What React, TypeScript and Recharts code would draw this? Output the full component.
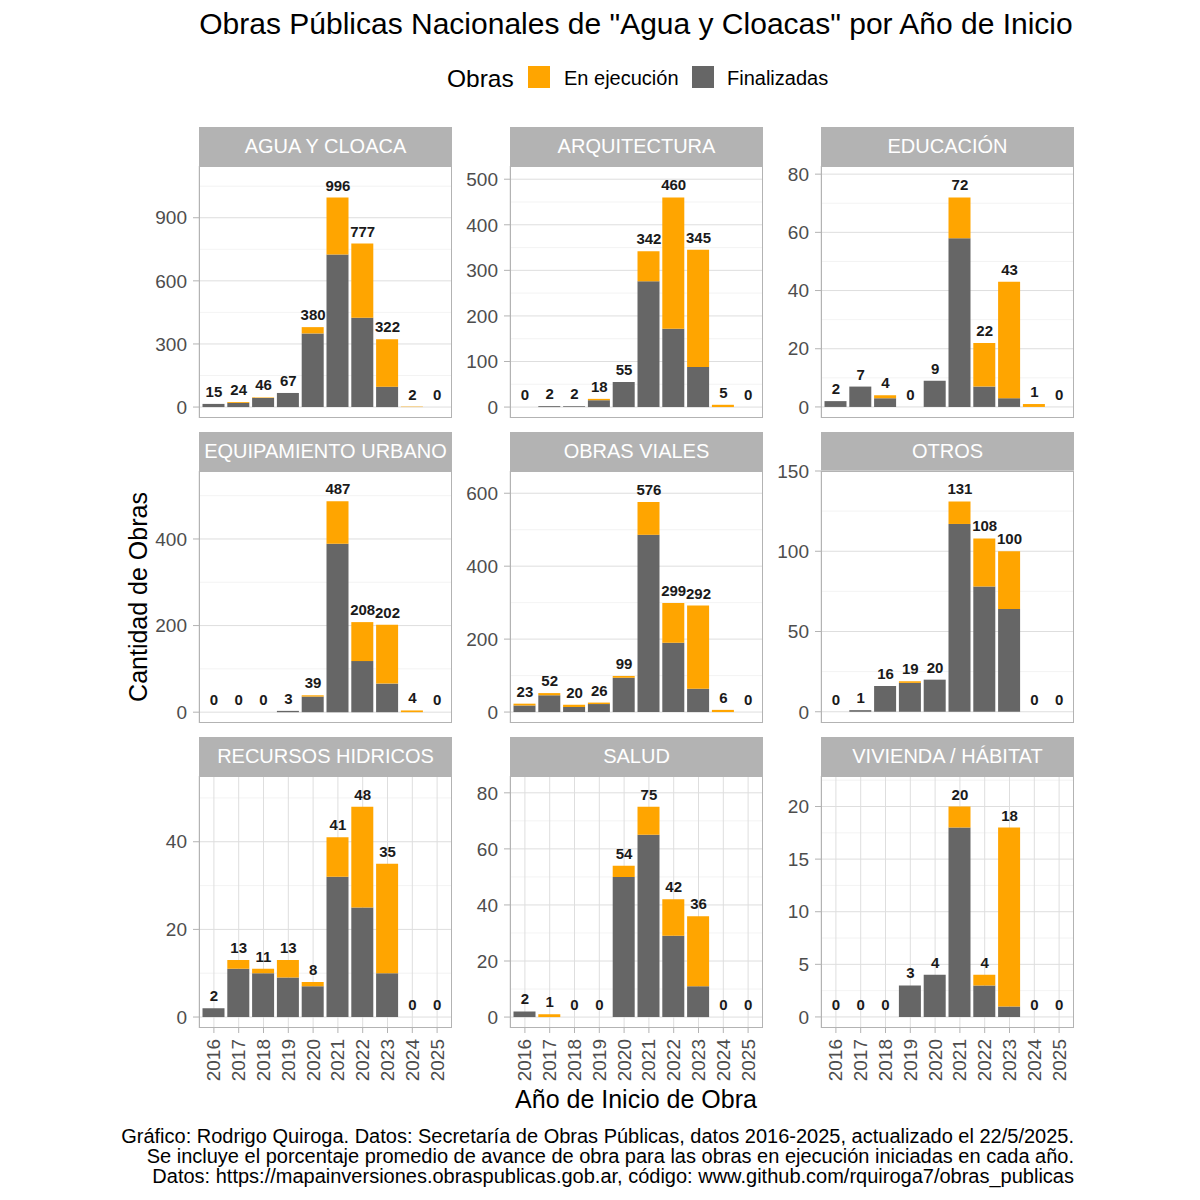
import { ComposedChart, Bar, Line, XAxis, YAxis, CartesianGrid, LabelList } from "recharts";

const FONT = '"Liberation Sans", Arial, Helvetica, sans-serif';

const YEARS = ["2016", "2017", "2018", "2019", "2020", "2021", "2022", "2023", "2024", "2025"];

// finalizadas / en ejecución por categoría
const AGUA_FIN = [15, 20, 43, 67, 350, 725, 425, 97, 0, 0];
const AGUA_EJEC = [0, 4, 3, 0, 30, 271, 352, 225, 2, 0];
const ARQ_FIN = [0, 2, 2, 15, 55, 276, 172, 88, 0, 0];
const ARQ_EJEC = [0, 0, 0, 3, 0, 66, 288, 257, 5, 0];
const EDU_FIN = [2, 7, 3, 0, 9, 58, 7, 3, 0, 0];
const EDU_EJEC = [0, 0, 1, 0, 0, 14, 15, 40, 1, 0];
const EQUIP_FIN = [0, 0, 0, 3, 36, 389, 118, 66, 0, 0];
const EQUIP_EJEC = [0, 0, 0, 0, 3, 98, 90, 136, 4, 0];
const VIALES_FIN = [18, 46, 14, 22, 94, 486, 190, 64, 0, 0];
const VIALES_EJEC = [5, 6, 6, 4, 5, 90, 109, 228, 6, 0];
const OTROS_FIN = [0, 1, 16, 18, 20, 117, 78, 64, 0, 0];
const OTROS_EJEC = [0, 0, 0, 1, 0, 14, 30, 36, 0, 0];
const HIDRICOS_FIN = [2, 11, 10, 9, 7, 32, 25, 10, 0, 0];
const HIDRICOS_EJEC = [0, 2, 1, 4, 1, 9, 23, 25, 0, 0];
const SALUD_FIN = [2, 0, 0, 0, 50, 65, 29, 11, 0, 0];
const SALUD_EJEC = [0, 1, 0, 0, 4, 10, 13, 25, 0, 0];
const VIVIENDA_FIN = [0, 0, 0, 3, 4, 18, 3, 1, 0, 0];
const VIVIENDA_EJEC = [0, 0, 0, 0, 0, 2, 1, 17, 0, 0];

const PANELS = [
  { name: "AGUA Y CLOACA", fin: AGUA_FIN, ejec: AGUA_EJEC, domain: [-52, 1146], ticks: [0, 300, 600, 900], minor: [150, 450, 750, 1050] },
  { name: "ARQUITECTURA", fin: ARQ_FIN, ejec: ARQ_EJEC, domain: [-24, 529], ticks: [0, 100, 200, 300, 400, 500], minor: [50, 150, 250, 350, 450] },
  { name: "EDUCACIÓN", fin: EDU_FIN, ejec: EDU_EJEC, domain: [-3.8, 82.8], ticks: [0, 20, 40, 60, 80], minor: [10, 30, 50, 70] },
  { name: "EQUIPAMIENTO URBANO", fin: EQUIP_FIN, ejec: EQUIP_EJEC, domain: [-25, 557], ticks: [0, 200, 400], minor: [100, 300, 500] },
  { name: "OBRAS VIALES", fin: VIALES_FIN, ejec: VIALES_EJEC, domain: [-30, 661], ticks: [0, 200, 400, 600], minor: [100, 300, 500] },
  { name: "OTROS", fin: OTROS_FIN, ejec: OTROS_EJEC, domain: [-7, 150], ticks: [0, 50, 100, 150], minor: [25, 75, 125] },
  { name: "RECURSOS HIDRICOS", fin: HIDRICOS_FIN, ejec: HIDRICOS_EJEC, domain: [-2.5, 55], ticks: [0, 20, 40], minor: [10, 30, 50] },
  { name: "SALUD", fin: SALUD_FIN, ejec: SALUD_EJEC, domain: [-3.9, 86], ticks: [0, 20, 40, 60, 80], minor: [10, 30, 50, 70] },
  { name: "VIVIENDA / HÁBITAT", fin: VIVIENDA_FIN, ejec: VIVIENDA_EJEC, domain: [-1.05, 22.9], ticks: [0, 5, 10, 15, 20], minor: [2.5, 7.5, 12.5, 17.5, 22.5] },
];

const COL_X = [199, 510, 821];
const ROW_Y = [166, 471, 776];
const PLOT_W = 253;
const PLOT_H = 252;
const STRIP_H = 39;
const AXIS_W = 70;
const X_AXIS_H = 65;
const TOP_PAD = 14;

const ORANGE = "#FFA500";
const GRAY = "#666666";

function YearTick(props: any) {
  const { x, y, payload } = props;
  return (
    <text
      transform={`translate(${x},${y}) rotate(-90)`}
      textAnchor="end"
      dominantBaseline="central"
      fill="#4D4D4D"
      fontSize={19}
      fontFamily={FONT}
    >
      {payload.value}
    </text>
  );
}

function Panel({ panel, index }: { panel: any; index: number }) {
  const col = index % 3;
  const row = Math.floor(index / 3);
  const left = COL_X[col];
  const top = ROW_Y[row];
  const bottom = row === 2;
  const data = YEARS.map((year, i) => ({
    year,
    fin: panel.fin[i],
    ejec: panel.ejec[i],
    total: panel.fin[i] + panel.ejec[i],
  }));

  return (
    <>
      <div
        style={{
          position: "absolute",
          left,
          top: top - STRIP_H,
          width: PLOT_W,
          height: STRIP_H,
          background: "#B3B3B3",
          color: "#fff",
          fontSize: 20,
          display: "flex",
          alignItems: "center",
          justifyContent: "center",
          whiteSpace: "nowrap",
        }}
      >
        {panel.name}
      </div>
      <div style={{ position: "absolute", left: left - AXIS_W, top: top - TOP_PAD }}>
        <ComposedChart
          width={AXIS_W + PLOT_W}
          height={TOP_PAD + PLOT_H + (bottom ? X_AXIS_H : 0)}
          data={data}
          margin={{ top: TOP_PAD, right: 0, bottom: 0, left: 0 }}
          barSize={22}
        >
          <CartesianGrid horizontalValues={panel.minor} vertical={false} stroke="#EBEBEB" strokeWidth={0.6} />
          <CartesianGrid horizontalValues={panel.ticks} stroke="#DEDEDE" strokeWidth={1} />
          <XAxis
            dataKey="year"
            padding={{ left: 2.5, right: 2.5 }}
            height={bottom ? X_AXIS_H : 0}
            tick={bottom ? <YearTick /> : false}
            tickLine={bottom ? { stroke: "#B3B3B3" } : false}
            axisLine={false}
            tickSize={5}
            tickMargin={6}
            interval={0}
          />
          <YAxis
            type="number"
            domain={panel.domain}
            allowDataOverflow
            ticks={panel.ticks}
            width={AXIS_W}
            tick={{ fill: "#4D4D4D", fontSize: 19, fontFamily: FONT }}
            tickLine={{ stroke: "#B3B3B3" }}
            axisLine={false}
            tickSize={6}
            tickMargin={6}
            interval={0}
          />
          <Bar dataKey="fin" stackId="a" fill={GRAY} isAnimationActive={false} />
          <Bar dataKey="ejec" stackId="a" fill={ORANGE} isAnimationActive={false} />
          <Line
            dataKey="total"
            stroke="none"
            dot={false}
            activeDot={false}
            legendType="none"
            isAnimationActive={false}
          >
            <LabelList
              dataKey="total"
              position="top"
              offset={7}
              fill="#1A1A1A"
              fontSize={15}
              fontWeight="bold"
              fontFamily={FONT}
            />
          </Line>
        </ComposedChart>
      </div>
      <div
        style={{
          position: "absolute",
          left,
          top,
          width: PLOT_W,
          height: PLOT_H,
          border: "1px solid #B3B3B3",
          boxSizing: "border-box",
          pointerEvents: "none",
        }}
      />
    </>
  );
}

export default function App() {
  return (
    <div
      style={{
        position: "absolute",
        left: 0,
        top: 0,
        width: 1200,
        height: 1200,
        background: "#fff",
        fontFamily: FONT,
        overflow: "hidden",
      }}
    >
      <svg width={1200} height={1200} style={{ position: "absolute", left: 0, top: 0 }}>
        <text x={636} y={34} textAnchor="middle" fontSize={30} fill="#000">
          Obras Públicas Nacionales de "Agua y Cloacas" por Año de Inicio
        </text>

        {/* leyenda */}
        <text x={447} y={87} fontSize={24.5} fill="#000">Obras</text>
        <rect x={528} y={66} width={22} height={22} fill={ORANGE} />
        <text x={564} y={85} fontSize={20} fill="#000">En ejecución</text>
        <rect x={692} y={66} width={22} height={22} fill={GRAY} />
        <text x={727} y={85} fontSize={20} fill="#000">Finalizadas</text>

        <text transform="translate(147,597) rotate(-90)" textAnchor="middle" fontSize={25} fill="#000">
          Cantidad de Obras
        </text>
        <text x={636} y={1108} textAnchor="middle" fontSize={25} fill="#000">
          Año de Inicio de Obra
        </text>

        <text x={1074} y={1143} textAnchor="end" fontSize={20} fill="#000">
          Gráfico: Rodrigo Quiroga. Datos: Secretaría de Obras Públicas, datos 2016-2025, actualizado el 22/5/2025.
        </text>
        <text x={1074} y={1163} textAnchor="end" fontSize={20} fill="#000">
          Se incluye el porcentaje promedio de avance de obra para las obras en ejecución iniciadas en cada año.
        </text>
        <text x={1074} y={1183} textAnchor="end" fontSize={20} fill="#000">
          Datos: https://mapainversiones.obraspublicas.gob.ar, código: www.github.com/rquiroga7/obras_publicas
        </text>
      </svg>
      {PANELS.map((p, i) => (
        <Panel key={p.name} panel={p} index={i} />
      ))}
    </div>
  );
}
